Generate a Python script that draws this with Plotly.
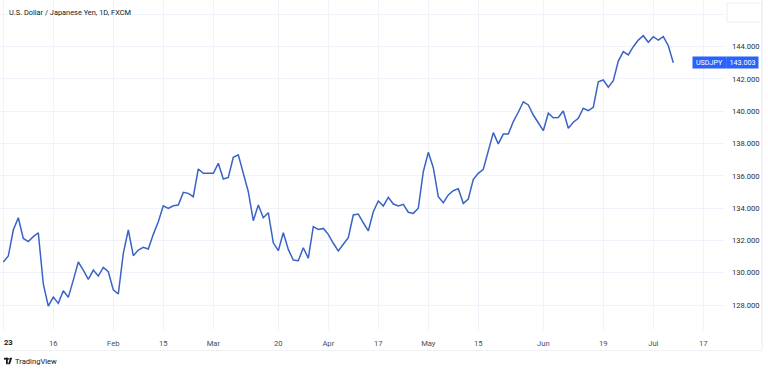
import pandas as pd
import plotly.graph_objects as go

# ---------------- data ----------------
start_date = "2023-01-02"
usdjpy = [
    130.67, 131.04, 132.65, 133.41, 132.13, 131.93, 132.24, 132.48, 129.31, 127.94,
    128.50, 128.11, 128.89, 128.48, 129.55, 130.67, 130.17, 129.60, 130.17, 129.80,
    130.34, 130.07, 128.94, 128.69, 131.21, 132.65, 131.06, 131.41, 131.58, 131.47,
    132.38, 133.16, 134.15, 133.99, 134.15, 134.20, 134.98, 134.92, 134.71, 136.43,
    136.16, 136.14, 136.16, 136.78, 135.81, 135.90, 137.15, 137.31, 136.16, 135.02,
    133.23, 134.20, 133.41, 133.72, 131.86, 131.37, 132.48, 131.45, 130.79, 130.75,
    131.55, 130.90, 132.86, 132.69, 132.75, 132.38, 131.83, 131.35, 131.77, 132.18,
    133.58, 133.64, 133.10, 132.59, 133.78, 134.45, 134.14, 134.67, 134.26, 134.14,
    134.24, 133.75, 133.68, 134.00, 136.26, 137.46, 136.51, 134.71, 134.34, 134.82,
    135.08, 135.21, 134.30, 134.57, 135.79, 136.16, 136.41, 137.60, 138.68, 137.98,
    138.59, 138.59, 139.36, 139.94, 140.59, 140.39, 139.77, 139.29, 138.80, 139.88,
    139.60, 139.62, 140.02, 138.95, 139.32, 139.57, 140.19, 140.04, 140.25, 141.83,
    141.94, 141.49, 141.90, 143.11, 143.69, 143.49, 144.00, 144.41, 144.68, 144.27,
    144.62, 144.41, 144.62, 144.06, 143.003,
]
dates = pd.bdate_range(start_date, periods=len(usdjpy))

x_tick_dates = ["2023-01-02", "2023-01-16", "2023-02-01", "2023-02-15", "2023-03-01",
                "2023-03-20", "2023-04-03", "2023-04-17", "2023-05-01", "2023-05-15",
                "2023-06-01", "2023-06-19", "2023-07-03", "2023-07-17"]
x_tick_text = ["", "16", "Feb", "15", "Mar", "20", "Apr", "17", "May", "15",
               "Jun", "19", "Jul", "17"]
y_tick_vals = [128, 130, 132, 134, 136, 138, 140, 142, 144, 146]
y_tick_text = ["128.000", "130.000", "132.000", "134.000", "136.000", "138.000",
               "140.000", "142.000", "144.000", ""]
symbol = "USDJPY"
title_text = "U.S. Dollar / Japanese Yen, 1D, FXCM"

# ---------------- layout helpers ----------------
W, H = 768, 370
PL, PR, PT, PB = 0, 724, 0, 330  # plot area in pixels


def px(x):
    return (x - PL) / (PR - PL)


def py(y):
    return 1 - (y - PT) / (PB - PT)


LINE = "#3a63c6"
BLUE = "#2962ff"
GRID = "#f0f3fa"
FONT = "Roboto"

fig = go.Figure()
fig.add_trace(go.Scatter(
    x=dates, y=usdjpy, mode="lines",
    line=dict(color=LINE, width=1.5),
    hoverinfo="skip", showlegend=False,
))

fig.update_layout(
    width=W, height=H,
    margin=dict(l=PL, r=W - PR, t=PT, b=H - PB),
    paper_bgcolor="white", plot_bgcolor="white",
    font=dict(family=FONT, size=8, color="#131722"),
    showlegend=False,
)

fig.update_xaxes(
    type="date",
    rangebreaks=[dict(bounds=["sat", "mon"])],
    range=["2022-12-30 08:10", "2023-07-21 03:20"],
    tickmode="array", tickvals=x_tick_dates, ticktext=x_tick_text,
    showgrid=True, gridcolor=GRID, gridwidth=1,
    zeroline=False, showline=False, ticks="",
    tickfont=dict(family=FONT, size=7.6, color="#4a4e5a"),
    ticklabelstandoff=7,
)
fig.update_yaxes(
    side="right",
    range=[126.46, 146.89],
    tickmode="array", tickvals=y_tick_vals, ticktext=y_tick_text,
    showgrid=True, gridcolor=GRID, gridwidth=1,
    zeroline=False, showline=False, ticks="",
    tickfont=dict(family=FONT, size=7.6, color="#2a2e39"),
    ticklabelstandoff=7,
)

annotations = [
    dict(text=title_text, xref="paper", yref="paper", x=px(7), y=py(12),
         xanchor="left", yanchor="middle", showarrow=False,
         font=dict(family=FONT, size=7.4, color="#131722")),
    dict(text="<b>23</b>", xref="paper", yref="paper", x=px(8), y=py(342),
         xanchor="center", yanchor="middle", showarrow=False,
         font=dict(family=FONT, size=7.6, color="#131722")),
    dict(text="TradingView", xref="paper", yref="paper", x=px(13), y=py(361),
         xanchor="left", yanchor="middle", showarrow=False,
         font=dict(family=FONT, size=7.6, color="#131722")),
    dict(text=symbol, xref="paper", yref="y", x=px(709.5), y=usdjpy[-1],
         xanchor="center", yanchor="middle", showarrow=False,
         width=33, height=11, bgcolor=BLUE, borderpad=0,
         font=dict(family=FONT, size=7.2, color="white")),
    dict(text=f"{usdjpy[-1]:.3f}", xref="paper", yref="y", x=px(742.5), y=usdjpy[-1],
         xanchor="center", yanchor="middle", showarrow=False,
         width=31, height=11, bgcolor=BLUE, borderpad=0,
         font=dict(family=FONT, size=7.2, color="white")),
]
fig.update_layout(annotations=annotations)

shapes = [
    # right chart border
    dict(type="line", xref="paper", yref="paper", x0=px(762), x1=px(762),
         y0=py(0), y1=py(350), line=dict(color="#e6e8ee", width=1)),
    # bottom of time scale
    dict(type="line", xref="paper", yref="paper", x0=px(0), x1=px(762),
         y0=py(350.5), y1=py(350.5), line=dict(color="#f0f1f4", width=1)),
    # top-right box
    dict(type="rect", xref="paper", yref="paper", x0=px(727), x1=px(762),
         y0=py(3), y1=py(22), line=dict(color="#eceef2", width=1)),
    # separator between symbol and price
    dict(type="line", xref="paper", yref="y", x0=px(726.5), x1=px(726.5),
         y0=usdjpy[-1] - 0.3, y1=usdjpy[-1] + 0.3, line=dict(color="#7d9cff", width=1)),
    # TradingView logo (T + dot + V)
    dict(type="rect", xref="paper", yref="paper", x0=px(4), x1=px(7.8),
         y0=py(359.6), y1=py(357.8), fillcolor="#131722", line=dict(width=0)),
    dict(type="rect", xref="paper", yref="paper", x0=px(6), x1=px(7.8),
         y0=py(364.2), y1=py(357.8), fillcolor="#131722", line=dict(width=0)),
    dict(type="circle", xref="paper", yref="paper", x0=px(8.1), x1=px(9.7),
         y0=py(359.7), y1=py(358.1), fillcolor="#131722", line=dict(width=0)),
    dict(type="path", xref="paper", yref="paper",
         path=(f"M {px(10.2)} {py(357.8)} L {px(12.2)} {py(357.8)} "
               f"L {px(10.0)} {py(364.2)} L {px(8.0)} {py(364.2)} Z"),
         fillcolor="#131722", line=dict(width=0)),
]
fig.update_layout(shapes=shapes)

fig.write_html(
    "out.html",
    config={"displayModeBar": False},
    post_script="document.body.style.margin='0';document.body.style.padding='0';"
                "document.body.style.overflow='hidden';",
)
